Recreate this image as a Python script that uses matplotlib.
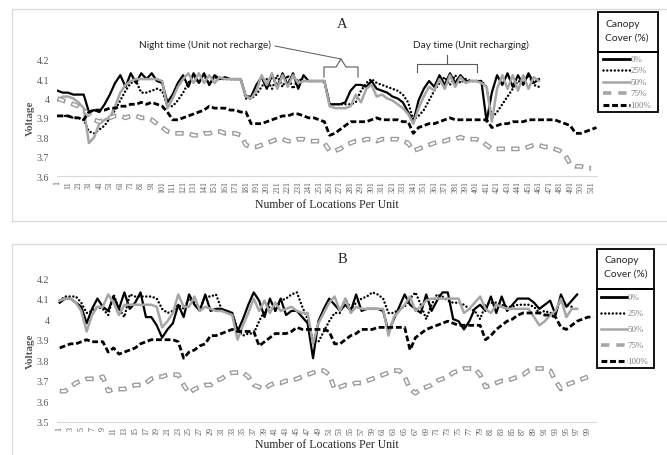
import numpy as np
import matplotlib
matplotlib.use("Agg")
import matplotlib.pyplot as plt
from matplotlib.lines import Line2D
from matplotlib.patches import Rectangle

plt.rcParams['lines.scale_dashes'] = False

# ---------------- DATA ----------------
series_names = ["0%", "25%", "50%", "75%", "100%"]

# Panel A: readings every 5 locations (1, 6, 11, ...)
a_step = 5
a_0 = [4.04,4.03,4.03,4.02,4.02,4.02,3.93,3.94,3.93,3.97,
       4.02,4.08,4.12,4.06,4.13,4.08,4.13,4.10,4.13,4.09,
       4.08,3.98,4.02,4.08,4.12,4.06,4.13,4.08,4.13,4.07,
       4.12,4.10,4.11,4.10,4.10,4.10,4.01,4.01,4.07,4.11,
       4.05,4.12,4.06,4.13,4.07,4.13,4.05,4.12,4.09,4.09,
       4.09,4.09,3.97,3.97,3.97,3.98,4.04,4.07,4.07,4.06,
       4.09,4.05,4.04,4.03,4.01,4.00,3.98,3.93,3.88,3.99,
       4.05,4.09,4.06,4.12,4.07,4.13,4.08,4.12,4.09,4.09,
       4.09,4.09,3.88,4.03,4.12,4.07,4.13,4.06,4.12,4.07,
       4.13,4.08,4.10]
a_25 = [3.91,3.91,3.91,3.90,3.90,3.89,3.83,3.82,3.84,3.86,
        3.90,3.94,3.99,4.04,4.08,4.09,4.03,4.03,4.04,4.05,
        4.04,3.96,3.96,3.99,4.03,4.08,4.12,4.08,4.12,4.07,
        4.11,4.10,4.10,4.10,4.10,4.10,4.00,4.00,4.02,4.06,
        4.10,4.05,4.12,4.06,4.12,4.05,4.10,4.09,4.09,4.09,
        4.09,4.09,3.97,3.97,3.97,3.97,3.97,3.98,4.04,4.08,
        4.10,4.08,4.07,4.06,4.05,4.04,4.02,3.98,3.89,3.91,
        3.94,3.99,4.04,4.08,4.11,4.07,4.12,4.08,4.10,4.09,
        4.09,4.09,4.06,3.90,3.93,3.97,4.01,4.05,4.09,4.08,
        4.12,4.07,4.06]
a_50 = [3.99,4.01,4.01,4.00,3.98,3.95,3.77,3.80,3.87,3.89,
        3.90,3.96,4.03,4.07,4.09,4.10,4.10,4.10,4.10,4.10,
        4.09,3.95,4.00,4.06,4.10,4.13,4.08,4.13,4.08,4.12,
        4.08,4.11,4.10,4.10,4.10,4.10,4.01,4.00,4.04,4.12,
        4.07,4.13,4.05,4.12,4.06,4.12,4.08,4.09,4.09,4.09,
        4.09,4.09,3.96,3.95,3.95,3.95,3.96,4.02,3.98,4.05,
        4.07,4.01,4.02,4.00,3.99,3.97,3.95,3.92,3.87,3.95,
        4.01,4.06,4.04,4.10,4.05,4.12,4.06,4.11,4.08,4.09,
        4.09,4.08,4.06,3.88,4.05,4.12,4.05,4.12,4.04,4.12,
        4.05,4.11,4.09]
a_75 = [4.00,3.99,3.98,3.97,3.96,3.94,3.92,3.89,3.88,3.89,
        3.90,3.91,3.91,3.90,3.91,3.91,3.90,3.90,3.89,3.87,
        3.85,3.83,3.82,3.82,3.82,3.82,3.81,3.81,3.82,3.82,
        3.83,3.83,3.82,3.82,3.82,3.81,3.76,3.75,3.75,3.76,
        3.77,3.78,3.79,3.79,3.78,3.78,3.79,3.79,3.78,3.78,
        3.78,3.77,3.73,3.73,3.74,3.76,3.77,3.78,3.78,3.79,
        3.79,3.78,3.79,3.79,3.79,3.79,3.78,3.77,3.73,3.74,
        3.75,3.76,3.77,3.78,3.78,3.79,3.79,3.80,3.79,3.79,
        3.79,3.78,3.76,3.74,3.74,3.74,3.74,3.74,3.74,3.74,
        3.75,3.76,3.76,3.75,3.75,3.74,3.73,3.71,3.66,3.65,
        3.65,3.64,3.64]
a_100 = [3.91,3.91,3.91,3.90,3.90,3.89,3.93,3.94,3.94,3.94,
         3.95,3.95,3.96,3.96,3.97,3.97,3.98,3.97,3.98,3.97,
         3.96,3.93,3.89,3.89,3.90,3.91,3.92,3.93,3.94,3.96,
         3.95,3.95,3.95,3.94,3.94,3.93,3.93,3.87,3.87,3.87,
         3.88,3.89,3.90,3.91,3.91,3.92,3.92,3.91,3.90,3.90,
         3.89,3.88,3.81,3.82,3.84,3.86,3.88,3.88,3.88,3.88,
         3.89,3.90,3.89,3.89,3.89,3.89,3.88,3.88,3.82,3.85,
         3.86,3.87,3.87,3.88,3.89,3.90,3.89,3.89,3.89,3.89,
         3.89,3.89,3.89,3.85,3.86,3.87,3.87,3.88,3.88,3.88,
         3.89,3.89,3.89,3.89,3.89,3.89,3.88,3.87,3.86,3.82,
         3.82,3.83,3.84,3.85]
a_n_categories = 516
a_tick_labels = list(range(1, 512, 10))
a_yticks = [3.6, 3.7, 3.8, 3.9, 4.0, 4.1, 4.2]

# Panel B: one reading per location (1, 2, 3, ...)
b_0 = [4.08,4.10,4.10,4.08,4.06,3.98,4.05,4.10,4.06,4.04,
       4.11,4.05,4.13,4.05,4.08,4.13,4.01,4.01,3.97,3.91,
       3.95,3.98,4.07,4.01,4.12,4.07,4.04,4.12,4.04,4.05,
       4.05,4.04,4.03,3.94,4.00,4.07,4.13,4.09,4.01,4.10,
       4.04,4.10,4.02,4.04,4.04,4.01,3.98,3.81,3.99,4.05,
       4.10,4.07,4.04,4.07,4.04,4.12,4.04,4.05,4.05,4.05,
       4.04,3.94,4.00,4.06,4.12,4.07,4.05,4.03,4.12,4.04,
       4.09,4.13,4.13,4.00,3.99,3.95,3.99,4.05,4.07,4.04,
       4.11,4.03,4.11,4.04,4.07,4.10,4.10,4.10,4.08,4.05,
       4.07,4.09,4.02,4.12,4.06,4.09,4.12]
b_25 = [4.09,4.11,4.11,4.11,4.08,4.03,4.04,4.06,4.05,4.02,
        4.12,4.05,4.01,4.12,4.11,4.11,4.11,4.11,4.10,4.05,
        4.03,4.04,4.07,4.05,4.10,4.08,4.05,4.11,4.11,4.12,
        4.05,4.04,4.03,3.95,3.92,3.93,3.93,3.99,4.04,4.06,
        4.04,4.09,4.10,4.12,4.13,4.06,4.00,3.90,3.89,3.94,
        3.99,4.03,4.03,4.10,4.05,4.08,4.10,4.11,4.13,4.12,
        4.10,4.03,4.03,4.05,4.06,4.10,4.13,4.07,4.00,4.07,
        4.12,4.11,4.09,4.08,4.08,4.07,4.05,4.04,4.00,4.07,
        4.08,4.08,4.07,4.06,4.06,4.07,4.07,4.07,4.06,4.03,
        4.04,4.03,4.03,4.10,4.07,4.06]
b_50 = [4.09,4.10,4.10,4.08,4.04,3.94,4.02,4.06,4.06,4.12,
        4.08,4.02,4.07,4.07,4.07,4.07,4.07,4.07,4.06,3.96,
        3.99,4.03,4.12,4.06,4.06,4.11,4.04,4.06,4.05,4.04,
        4.04,4.03,4.02,3.90,3.97,4.03,4.10,4.04,4.09,4.03,
        4.08,4.04,4.05,4.06,4.04,4.03,4.03,3.88,3.98,4.03,
        4.08,4.11,4.04,4.10,4.03,4.06,4.05,4.05,4.05,4.05,
        4.05,3.92,4.01,4.04,4.07,4.11,4.04,4.06,4.09,4.10,
        4.10,4.10,4.10,4.10,4.10,4.03,4.05,4.08,4.11,4.05,
        4.03,4.07,4.06,4.05,4.05,4.05,4.05,4.05,4.01,3.97,
        3.99,4.02,4.04,4.10,4.01,4.05,4.05]
b_75 = [3.65,3.65,3.67,3.69,3.70,3.71,3.71,3.71,3.72,3.65,
        3.66,3.66,3.66,3.67,3.68,3.68,3.69,3.71,3.72,3.72,
        3.73,3.73,3.73,3.68,3.64,3.66,3.67,3.68,3.68,3.70,
        3.71,3.73,3.74,3.74,3.74,3.72,3.68,3.67,3.66,3.68,
        3.69,3.69,3.70,3.70,3.71,3.72,3.73,3.74,3.75,3.75,
        3.73,3.66,3.67,3.68,3.68,3.69,3.69,3.70,3.71,3.72,
        3.73,3.74,3.75,3.75,3.72,3.66,3.64,3.66,3.67,3.68,
        3.70,3.71,3.72,3.74,3.75,3.76,3.76,3.76,3.73,3.67,
        3.68,3.69,3.70,3.70,3.71,3.72,3.73,3.75,3.76,3.76,
        3.76,3.75,3.70,3.66,3.68,3.69,3.70,3.71,3.72]
b_100 = [3.86,3.87,3.88,3.88,3.89,3.90,3.89,3.89,3.89,3.84,
         3.86,3.83,3.84,3.85,3.86,3.88,3.89,3.90,3.90,3.90,
         3.90,3.90,3.89,3.81,3.84,3.85,3.87,3.88,3.92,3.92,
         3.93,3.94,3.95,3.94,3.94,3.94,3.94,3.87,3.89,3.91,
         3.93,3.93,3.93,3.94,3.96,3.95,3.95,3.95,3.95,3.95,
         3.94,3.88,3.88,3.90,3.92,3.93,3.95,3.95,3.95,3.96,
         3.96,3.96,3.96,3.96,3.96,3.85,3.91,3.93,3.95,3.96,
         3.97,3.98,3.99,3.98,3.97,3.97,3.97,3.97,3.97,3.90,
         3.92,3.95,3.97,3.99,4.00,4.02,4.03,4.03,4.03,4.03,
         4.02,4.02,4.01,3.96,3.95,3.97,3.99,4.00,4.01,4.01]
b_n_categories = 100
b_tick_labels = list(range(1, 100, 2))
b_yticks = [3.5, 3.6, 3.7, 3.8, 3.9, 4.0, 4.1, 4.2]

# ---------------- STYLE ----------------
W, H = 667, 456
GRAY = '#a6a6a6'
TXT = '#595959'
SERIF = 'Liberation Serif'
SANS = 'Lato'

fig = plt.figure(figsize=(W / 100, H / 100), dpi=100)
fig.patch.set_facecolor('white')


def fx(px):
    return px / W


def fy(py):
    return 1 - py / H


ON, OFF, D = 6.0, 4.5, 1.0
STYLES = {
    "0%": [dict(color='black', lw=1.6, solid_joinstyle='round')],
    "25%": [dict(color='black', lw=1.8, linestyle=(0, (0.01, 2.7)), dash_capstyle='round')],
    "50%": [dict(color=GRAY, lw=1.8, solid_joinstyle='round')],
    "75%": [dict(color='#9a9a9a', lw=3.4, linestyle=(0, (ON, OFF)), dash_capstyle='butt'),
            dict(color='white', lw=1.5, linestyle=(ON + OFF - D, (ON - 2 * D, OFF + 2 * D)),
                 dash_capstyle='butt')],
    "100%": [dict(color='black', lw=2.0, linestyle=(0, (4.2, 2.0)), dash_capstyle='butt')],
}


def make_axes(left, top, right, bottom):
    return fig.add_axes([fx(left), fy(bottom), (right - left) / W, (bottom - top) / H])


def style_axes(ax, ncat, ticks, yticks):
    ax.set_xlim(0.5, ncat + 0.5)
    ax.set_ylim(yticks[0], yticks[-1])
    for s in ['top', 'right', 'left']:
        ax.spines[s].set_visible(False)
    ax.spines['bottom'].set_color('#d9d9d9')
    ax.spines['bottom'].set_linewidth(0.8)
    ax.set_facecolor('none')
    ax.set_xticks(ticks)
    ax.set_xticklabels([str(t) for t in ticks], rotation=90, fontsize=5.8,
                       family=SERIF, color=TXT)
    ax.set_yticks(yticks)
    ax.set_yticklabels([f"{v:g}" for v in yticks], fontsize=7.2, family=SERIF, color=TXT)
    ax.tick_params(axis='both', length=0)
    ax.tick_params(axis='x', pad=3)
    ax.tick_params(axis='y', pad=5.5)


def draw_series(ax, xs_list, ys_list):
    for name, xs, ys in zip(series_names, xs_list, ys_list):
        for st in STYLES[name]:
            ax.plot(xs, ys, **st)


# Panel A
axA = make_axes(57, 60.7, 597, 177)
valsA = [a_0, a_25, a_50, a_75, a_100]
xsA = [1 + a_step * np.arange(len(v)) for v in valsA]
draw_series(axA, xsA, valsA)
style_axes(axA, a_n_categories, a_tick_labels, a_yticks)

# Panel B
axB = make_axes(57, 279, 596, 423)
valsB = [b_0, b_25, b_50, b_75, b_100]
xsB = [1 + np.arange(len(v)) for v in valsB]
draw_series(axB, xsB, valsB)
style_axes(axB, b_n_categories, b_tick_labels, b_yticks)

# Panel frames
for (x0, y0, x1, y1) in [(12, 10, 700, 221.7), (12, 244.7, 700, 470)]:
    fig.add_artist(Rectangle((fx(x0), fy(y1)), (x1 - x0) / W, (y1 - y0) / H,
                             fill=False, ec='#d9d9d9', lw=0.9, transform=fig.transFigure))

# Titles and axis labels
for letter, y in [("A", 25), ("B", 259.5)]:
    fig.text(fx(342), fy(y), letter, ha='center', va='center', fontsize=10.5,
             family=SERIF, color='#262626')
for y in [205, 445]:
    fig.text(fx(327), fy(y), "Number of Locations Per Unit", ha='center', va='center',
             fontsize=8.5, family=SERIF, color='#262626')
for y in [118, 351]:
    fig.text(fx(30), fy(y), "Voltage", ha='center', va='center', rotation=90,
             fontsize=8, family=SERIF, color=TXT, fontweight='bold')


def fline(xs, ys, **kw):
    fig.add_artist(Line2D([fx(x) for x in xs], [fy(y) for y in ys],
                          transform=fig.transFigure, **kw))


# Annotations
ANN = '#595959'
fig.text(fx(205.5), fy(45), "Night time (Unit not recharge)", ha='center', va='center',
         fontsize=7.2, family=SANS, color='#262626')
fline([275, 341], [47, 60], color=ANN, lw=0.7)
fline([324, 324, 336, 341, 346, 358, 358], [78, 68, 68, 60, 68, 68, 78], color=ANN, lw=0.8)

fig.text(fx(471), fy(45), "Day time (Unit recharging)", ha='center', va='center',
         fontsize=7.2, family=SANS, color='#262626')
fline([417, 417, 477, 477], [73, 65, 65, 73], color=ANN, lw=0.8)
fline([447, 447], [65, 56], color=ANN, lw=0.8)


# Legends
def legend(x0, x1, ytop, ymid, ybot, rows, sx0, sx1, lx):
    for (a, b) in [(ytop, ymid), (ymid, ybot)]:
        fig.add_artist(Rectangle((fx(x0), fy(b)), (x1 - x0) / W, (b - a) / H,
                                 fill=False, ec='black', lw=1.3, transform=fig.transFigure))
    fig.text(fx(x0 + 7.5), fy(ytop + 11), "Canopy", ha='left', va='center',
             fontsize=7.4, family=SANS, color='#262626')
    fig.text(fx(x0 + 7.5), fy(ytop + 24.5), "Cover (%)", ha='left', va='center',
             fontsize=7.4, family=SANS, color='#262626')
    legend_styles = {
        "0%": dict(color='black', lw=2.0),
        "25%": dict(color='black', lw=1.8, linestyle=(0, (0.01, 2.7)), dash_capstyle='round'),
        "50%": dict(color=GRAY, lw=1.8),
        "75%": dict(color=GRAY, lw=2.6, linestyle=(0, (6, 5))),
        "100%": dict(color='black', lw=2.2, linestyle=(0, (4.2, 2.0))),
    }
    for name, y in zip(series_names, rows):
        fline([sx0, sx1], [y, y], **legend_styles[name])
        fig.text(fx(lx), fy(y), name, ha='left', va='center', fontsize=6.4,
                 family=SERIF, color='#7f7f7f')


legend(597.7, 658.3, 13.3, 53.3, 112.7, [60, 71.3, 82.7, 94.3, 106], 602.7, 630, 630.5)
legend(596.7, 654, 250, 290, 369, [298, 314, 330, 346, 362], 600.7, 626.7, 627.5)

fig.savefig("out.png", dpi=100, facecolor='white')
